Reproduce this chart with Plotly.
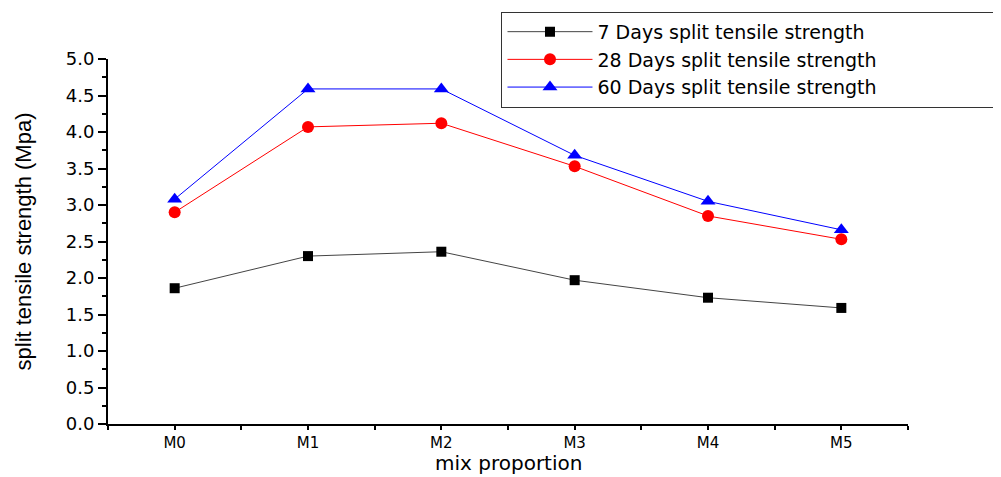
import plotly.graph_objects as go

categories = ["M0", "M1", "M2", "M3", "M4", "M5"]
days7 = [1.86, 2.30, 2.36, 1.97, 1.73, 1.59]
days28 = [2.90, 4.07, 4.12, 3.53, 2.85, 2.53]
days60 = [3.08, 4.59, 4.59, 3.68, 3.05, 2.66]
names = ["7 Days split tensile strength", "28 Days split tensile strength", "60 Days split tensile strength"]
y_ticks = [0.0, 0.5, 1.0, 1.5, 2.0, 2.5, 3.0, 3.5, 4.0, 4.5, 5.0]
x_title = "mix proportion"
y_title = "split tensile strength (Mpa)"

xs = list(range(len(categories)))
fig = go.Figure()
fig.add_trace(go.Scatter(x=xs, y=days7, name=names[0], mode="lines+markers",
                         line=dict(color="#444444", width=1),
                         marker=dict(symbol="square", size=10, color="black")))
fig.add_trace(go.Scatter(x=xs, y=days28, name=names[1], mode="lines+markers",
                         line=dict(color="red", width=1),
                         marker=dict(symbol="circle", size=12, color="red")))
fig.add_trace(go.Scatter(x=xs, y=days60, name=names[2], mode="lines+markers",
                         line=dict(color="blue", width=1),
                         marker=dict(symbol="triangle-up", size=13, color="blue")))

font = "Liberation Sans, Arial, sans-serif"
wide = "DejaVu Sans, Verdana, sans-serif"
fig.update_layout(
    width=1001, height=477,
    margin=dict(l=100, r=101, t=51, b=61, autoexpand=False),
    paper_bgcolor="white", plot_bgcolor="white",
    font=dict(family=font, color="black"),
    showlegend=True,
    legend=dict(xref="container", yref="container", x=0.493, y=0.992,
                xanchor="left", yanchor="top", orientation="h",
                bordercolor="#333333", borderwidth=1, bgcolor="white",
                font=dict(size=19, family=wide), tracegroupgap=0,
                itemwidth=85, entrywidth=480, entrywidthmode="pixels"),
    xaxis=dict(range=[-0.5, 5.5], tickvals=xs, ticktext=categories,
               showgrid=False, zeroline=False, showline=True, linecolor="black",
               linewidth=2, ticks="outside", ticklen=4, tickcolor="black", tickwidth=1.5,
               tickfont=dict(size=15, family=wide),
               minor=dict(tickvals=[-0.5, 0.5, 1.5, 2.5, 3.5, 4.5, 5.5], ticks="outside",
                          ticklen=4, tickcolor="black")),
    yaxis=dict(range=[0, 5.0], tickvals=y_ticks, ticktext=[f"{v:.1f}" for v in y_ticks],
               showgrid=False, zeroline=False, showline=True, linecolor="black",
               linewidth=2, ticks="outside", ticklen=8, tickcolor="black", tickwidth=1.5,
               tickfont=dict(size=18, family=wide),
               minor=dict(dtick=0.25, tick0=0, ticks="outside", ticklen=4, tickcolor="black"),
               title=dict(text=y_title, font=dict(size=22, family=font), standoff=28)),
    annotations=[dict(text=x_title, xref="paper", yref="paper", x=0.5, y=-0.107,
                      xanchor="center", yanchor="middle", showarrow=False,
                      font=dict(size=20, family=wide))],
)
fig.write_html("out.html")
